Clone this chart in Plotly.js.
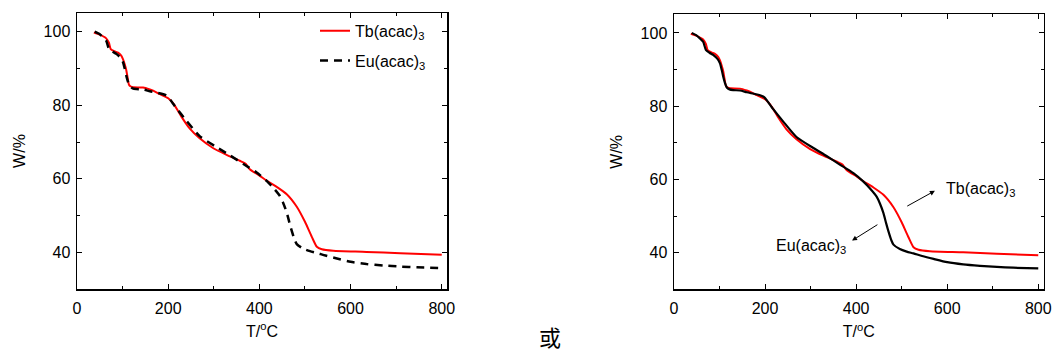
<!DOCTYPE html>
<html>
<head>
<meta charset="utf-8">
<script src="https://cdn.plot.ly/plotly-3.0.1.min.js"></script>
<style>html,body{margin:0;padding:0;background:#fff;}#chart{width:1053px;height:354px;}</style>
</head>
<body>
<div id="chart"></div>
<script>
// Tb(acac)3 TGA curve
var tbT = [37,50,64,70,74,82,90,97,101,105,108,111,114,118,123,145,160,167,182,200,211,220,229,247,269,299,328,357,370,379,401,416,438,460,482,500,515,526,537,562,635,709,800];
var tbW = [99.8,99.2,98.2,97.0,95.3,94.7,94.3,93.5,92.5,91.0,89.6,87.5,85.6,85.1,84.9,84.8,84.3,84.0,83.0,81.9,80.5,78.8,76.9,73.7,71.0,68.3,66.5,64.9,64.1,62.6,60.8,59.5,57.8,55.8,52.4,48.3,44.2,41.5,40.8,40.4,40.1,39.7,39.3];
// Eu(acac)3 TGA curve
var euT = [39,50,57,64,70,78,86,95,101,105,108,112,116,122,130,145,160,175,189,198,205,218,240,269,306,335,365,394,416,430,445,452,460,466,471,477,482,496,511,526,545,570,600,635,672,709,745,800];
var euW = [100.0,99.3,98.5,97.6,95.4,94.6,94.0,93.0,91.7,89.8,88.1,86.3,85.1,84.6,84.4,84.3,83.8,83.4,83.0,82.5,81.4,79.2,75.8,71.6,68.6,66.4,64.0,61.7,59.4,57.6,55.3,53.5,50.8,48.0,45.8,43.5,42.2,41.0,40.3,39.8,39.1,38.3,37.4,36.8,36.4,36.1,35.9,35.7];

var tbName = 'Tb(acac)<sub>3</sub>';
var euName = 'Eu(acac)<sub>3</sub>';
var xTitle = 'T/<sup>o</sup>C';
var yTitle = 'W/%';
var orText = '或';

var RED = '#ff0000', BLK = '#000000';
var FONT = 'Liberation Sans, Arial, sans-serif';

var traces = [
  {x: tbT, y: tbW, type: 'scatter', mode: 'lines', name: tbName, xaxis: 'x', yaxis: 'y',
   line: {color: RED, width: 2, shape: 'spline', smoothing: 0.6}, legendgroup: 'a'},
  {x: euT, y: euW, type: 'scatter', mode: 'lines', name: euName, xaxis: 'x', yaxis: 'y',
   line: {color: BLK, width: 2.5, dash: '8px,6px', shape: 'spline', smoothing: 0.6}, legendgroup: 'b'},
  {x: tbT, y: tbW, type: 'scatter', mode: 'lines', name: tbName, xaxis: 'x2', yaxis: 'y2', showlegend: false,
   line: {color: RED, width: 2, shape: 'spline', smoothing: 0.6}},
  {x: euT, y: euW, type: 'scatter', mode: 'lines', name: euName, xaxis: 'x2', yaxis: 'y2', showlegend: false,
   line: {color: BLK, width: 2.2, shape: 'spline', smoothing: 0.6}}
];

function xa(dom){
  return {domain: dom, range: [0, 811.5], dtick: 200, tick0: 0, ticks: 'inside', ticklen: 5, tickwidth: 1,
    tickcolor: '#000', showline: true, linecolor: '#000', linewidth: 1.5, mirror: 'allticks',
    showgrid: false, zeroline: false, ticklabelstandoff: 4,
    minor: {dtick: 100, ticks: 'inside', ticklen: 3, tickwidth: 1, tickcolor: '#000', showgrid: false},
    tickfont: {family: FONT, size: 16, color: '#000'},
    title: {text: xTitle, font: {family: FONT, size: 16, color: '#000'}, standoff: 10}};
}
function ya(dom, anchor){
  return {domain: dom, range: [30, 105.1], dtick: 20, tick0: 0, ticks: 'inside', ticklen: 5, tickwidth: 1,
    tickcolor: '#000', showline: true, linecolor: '#000', linewidth: 1.5, mirror: 'allticks',
    showgrid: false, zeroline: false, anchor: anchor, ticklabelstandoff: 2,
    minor: {dtick: 10, ticks: 'inside', ticklen: 3, tickwidth: 1, tickcolor: '#000', showgrid: false},
    tickfont: {family: FONT, size: 16, color: '#000'},
    title: {text: yTitle, font: {family: FONT, size: 16, color: '#000'}, standoff: 14}};
}

var xa1 = xa([77/1053, 447/1053]);
var xa2 = xa([674/1053, 1043.5/1053]); xa2.anchor = 'y2';
var layout = {
  width: 1053, height: 354,
  margin: {l: 0, r: 0, t: 0, b: 0},
  paper_bgcolor: '#fff', plot_bgcolor: '#fff',
  font: {family: FONT, size: 16, color: '#000'},
  xaxis: Object.assign(xa1, {anchor: 'y'}),
  yaxis: ya([65/354, 341/354], 'x'),
  xaxis2: xa2,
  yaxis2: ya([64.7/354, 339.7/354], 'x2'),
  showlegend: true,
  legend: {x: 315/1053, y: 0.961, xanchor: 'left', yanchor: 'top', bgcolor: 'rgba(0,0,0,0)',
    font: {family: FONT, size: 16, color: '#000'}, traceorder: 'grouped', tracegroupgap: 6},
  annotations: [
    {xref: 'x2', yref: 'y2', x: 593, y: 57.2, text: tbName, showarrow: false, xanchor: 'left', yanchor: 'middle',
     font: {family: FONT, size: 16, color: '#000'}},
    {xref: 'x2', yref: 'y2', x: 573, y: 56.9, axref: 'x2', ayref: 'y2', ax: 509, ay: 52.5, text: '',
     showarrow: true, arrowhead: 2, arrowsize: 1, arrowwidth: 1, arrowcolor: '#000'},
    {xref: 'x2', yref: 'y2', x: 382, y: 41.6, text: euName, showarrow: false, xanchor: 'right', yanchor: 'middle',
     font: {family: FONT, size: 16, color: '#000'}},
    {xref: 'x2', yref: 'y2', x: 391, y: 43.3, axref: 'x2', ayref: 'y2', ax: 450, ay: 47.9, text: '',
     showarrow: true, arrowhead: 2, arrowsize: 1, arrowwidth: 1, arrowcolor: '#000'},
    {xref: 'paper', yref: 'paper', x: 550/1053, y: 0, text: orText, showarrow: false,
     xanchor: 'center', yanchor: 'bottom', font: {family: 'Noto Sans CJK SC, sans-serif', size: 22, color: '#000'}}
  ]
};

Plotly.newPlot('chart', traces, layout, {displayModeBar: false, staticPlot: true});
</script>
</body>
</html>
